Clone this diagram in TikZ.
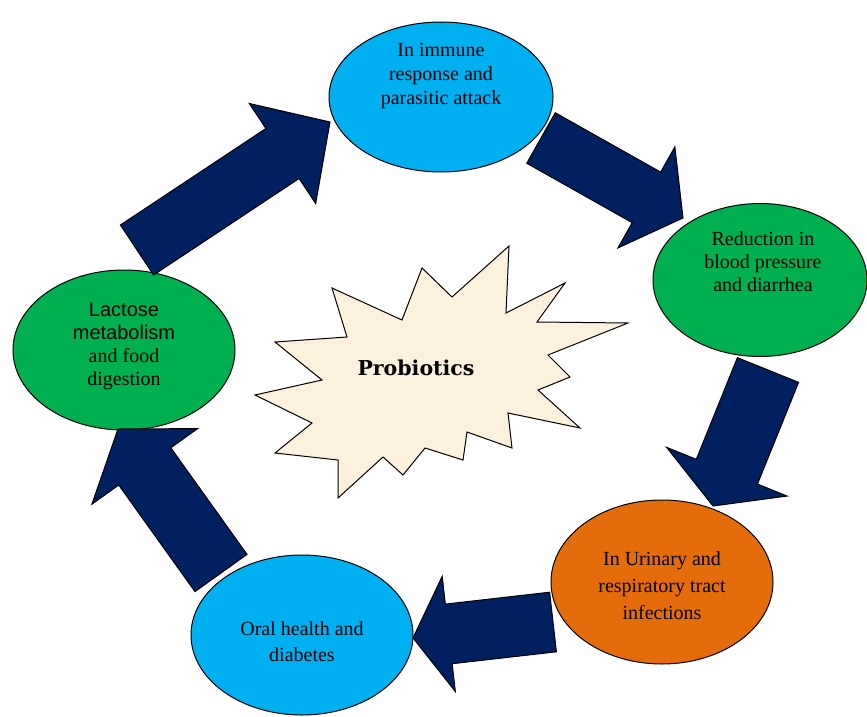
\documentclass[tikz,border=0pt]{standalone}
\usepackage{fontspec}
\setmainfont{Liberation Serif}
\newfontfamily\arialfont{Liberation Sans}
\newfontfamily\burstfont{DejaVu Serif}
\usetikzlibrary{shapes.geometric,calc}

\definecolor{skyblue}{RGB}{0,176,240}
\definecolor{leafgreen}{RGB}{0,176,80}
\definecolor{burntorange}{RGB}{228,108,10}
\definecolor{navyblue}{RGB}{0,32,96}
\definecolor{cream}{RGB}{252,241,220}

% #1 tail, #2 tip, #3 half shaft, #4 half head, #5 head length
\newcommand{\blockarrow}[5]{%
  \coordinate (hb) at ($(#2)!#5!(#1)$);
  \draw[block arrow] ($(#1)!#3!90:(#2)$) -- ($(hb)!#3!90:(#2)$) -- ($(hb)!#4!90:(#2)$) -- (#2)
    -- ($(hb)!#4!-90:(#2)$) -- ($(hb)!#3!-90:(#2)$) -- ($(#1)!#3!-90:(#2)$) -- cycle;
}

\begin{document}
\begin{tikzpicture}[x=1pt,y=-1pt,
		bubble/.style={ellipse,draw,line width=1pt,inner sep=0pt},
		bubble text/.style={align=center,font=\fontsize{20}{24}\selectfont},
		block arrow/.style={fill=navyblue,draw=black,line width=1pt,line join=miter}]
		\useasboundingbox (0,0) rectangle (867,717);
		% 中心
		\draw[fill=cream,line width=1pt] (332,288) -- (402,320) -- (422,268) -- (452,297) -- (509,246)
		-- (506,313) -- (565,283) -- (537,322) -- (628,323) -- (548,355) -- (570,377)
		-- (538,390) -- (580,428) -- (508,413) -- (512,448) -- (467,432) -- (463,460)
		-- (425,448) -- (403,475) -- (383,457) -- (338,498) -- (338,460) -- (275,453)
		-- (312,423) -- (255,395) -- (322,380) -- (275,342) -- (347,337) -- cycle;
		\node[font=\burstfont\bfseries\fontsize{20.5}{24}\selectfont] (probiotics) at (416,368) {Probiotics};
		% 五个作用
		\node[bubble,fill=skyblue,minimum width=224pt,minimum height=150pt,
		label={[bubble text,yshift=21pt]center:In immune\\response and\\parasitic attack}] (immune) at (441,97) {};
		\node[bubble,fill=leafgreen,minimum width=214pt,minimum height=153pt,
		label={[bubble text,yshift=18pt,xshift=3pt,font=\fontsize{20}{23}\selectfont]center:Reduction in\\blood pressure\\and diarrhea}] (blood) at (760,280) {};
		\node[bubble,fill=burntorange,minimum width=222pt,minimum height=164pt,
		label={[bubble text,yshift=-4pt,font=\fontsize{20}{27}\selectfont]center:In Urinary and\\respiratory tract\\infections}] (urinary) at (662,582) {};
		\node[bubble,fill=skyblue,minimum width=222pt,minimum height=160pt,
		label={[bubble text,yshift=-7pt,font=\fontsize{20}{26}\selectfont]center:Oral health and\\diabetes}] (oral) at (302,635) {};
		\node[bubble,fill=leafgreen,minimum width=222pt,minimum height=160pt,
		label={[bubble text,yshift=4pt,font=\fontsize{20}{23}\selectfont]center:{\arialfont Lactose}\\{\arialfont metabolism}\\and food\\digestion}] (lactose) at (124,350) {};
		% 箭头
		\coordinate (lactose out) at (137,250);
		\coordinate (immune in) at (330,122);
		\coordinate (immune out) at (541,138);
		\coordinate (blood in) at (683,218);
		\coordinate (blood out) at (768,370);
		\coordinate (urinary in) at (713,506);
		\coordinate (urinary out) at (553,622);
		\coordinate (oral in) at (413,638);
		\coordinate (oral out) at (221,573);
		\coordinate (lactose in) at (118,429);
		\blockarrow{lactose out}{immune in}{30pt}{60pt}{57pt}
		\blockarrow{immune out}{blood in}{29pt}{58pt}{42pt}
		\blockarrow{blood out}{urinary in}{33pt}{65pt}{37pt}
		\blockarrow{urinary out}{oral in}{30pt}{58pt}{36pt}
		\blockarrow{oral out}{lactose in}{32pt}{65pt}{46pt}
\end{tikzpicture}
\end{document}
